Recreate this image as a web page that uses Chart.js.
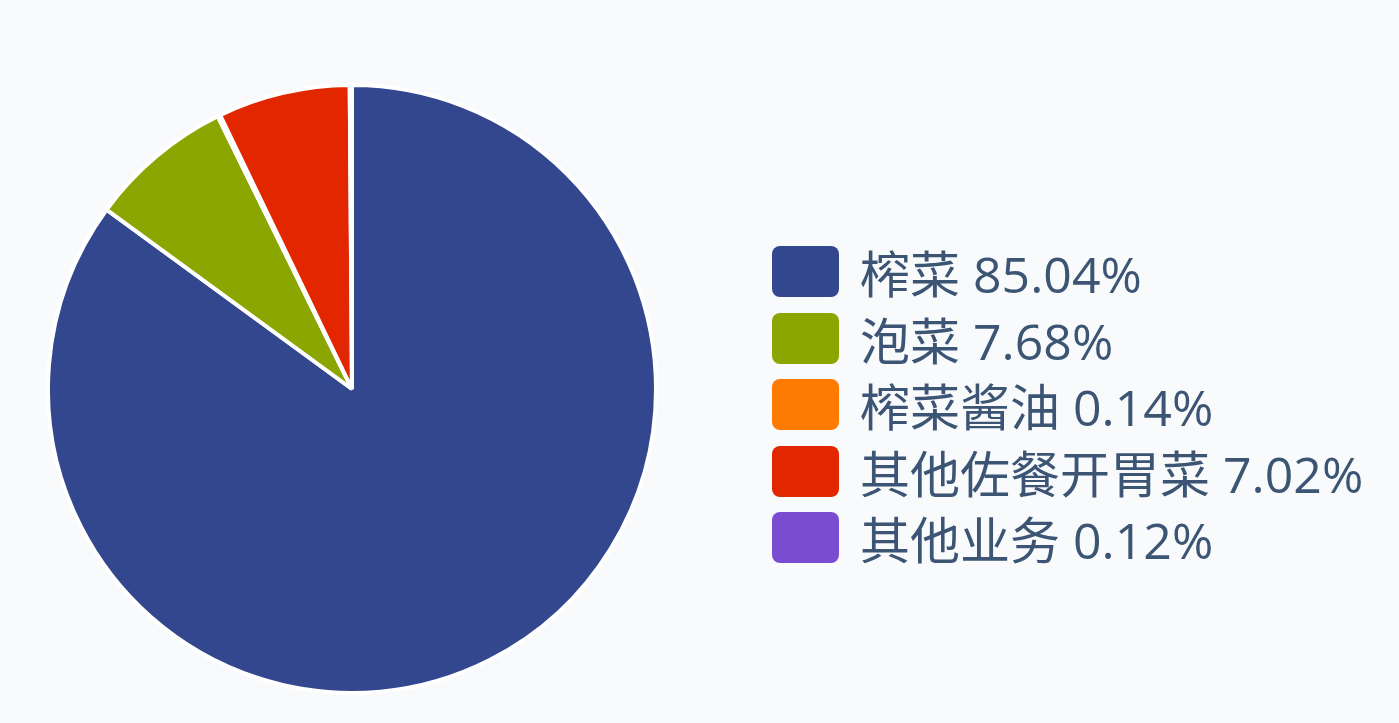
<!DOCTYPE html>
<html>
<head>
<meta charset="utf-8">
<script src="https://cdn.jsdelivr.net/npm/chart.js@4/dist/chart.umd.min.js"></script>
<style>
  html, body { margin: 0; padding: 0; background: #f9fafc; }
  body { width: 1399px; height: 723px; position: relative; overflow: hidden;
         font-family: "Open Sans", "Noto Sans CJK SC", sans-serif; }
  #pieBox { position: absolute; left: 46px; top: 83px; width: 612px; height: 612px; }
  #legend { position: absolute; left: 772px; top: 246px; margin: 0; padding: 0; list-style: none; }
  #legend li { display: flex; align-items: center; height: 51px; margin-bottom: 15.5px; }
  #legend .box { width: 67px; height: 51px; border-radius: 8px; flex: none; }
  #legend .txt { position: relative; top: 3px; margin-left: 21px; font-size: 50px; line-height: 51px;
                 color: #3c5574; white-space: nowrap; }
</style>
</head>
<body>
<div id="pieBox"><canvas id="pie"></canvas></div>
<ul id="legend"></ul>
<script>
  // shares of revenue by product, in percent
  var categories = ['榨菜', '泡菜', '榨菜酱油', '其他佐餐开胃菜', '其他业务'];
  var shares = [85.04, 7.68, 0.14, 7.02, 0.12];
  var colors = ['#33478f', '#8ba600', '#ff7a00', '#e22600', '#7a4dd0'];

  var pie = new Chart(document.getElementById('pie'), {
    type: 'pie',
    data: {
      labels: categories,
      datasets: [{
        data: shares,
        backgroundColor: colors,
        borderColor: '#ffffff',
        borderWidth: 4,
        hoverOffset: 0,
        offset: 0
      }]
    },
    options: {
      responsive: true,
      maintainAspectRatio: false,
      animation: false,
      layout: { padding: 0 },
      plugins: {
        legend: { display: false },
        tooltip: { enabled: false }
      }
    }
  });

  var ul = document.getElementById('legend');
  categories.forEach(function (name, i) {
    var li = document.createElement('li');
    var box = document.createElement('span');
    box.className = 'box';
    box.style.background = colors[i];
    var txt = document.createElement('span');
    txt.className = 'txt';
    txt.textContent = name + ' ' + shares[i].toFixed(2) + '%';
    li.appendChild(box);
    li.appendChild(txt);
    ul.appendChild(li);
  });
</script>
</body>
</html>
